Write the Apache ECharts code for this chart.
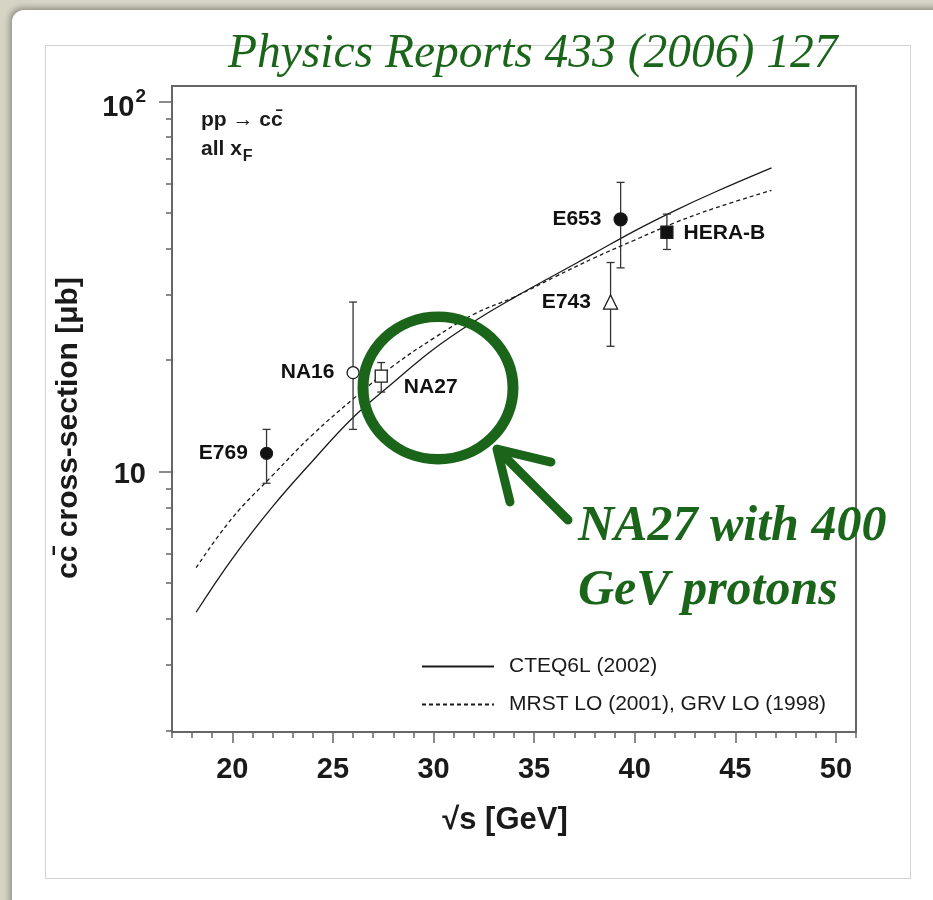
<!DOCTYPE html>
<html>
<head>
<meta charset="utf-8">
<script src="https://cdn.jsdelivr.net/npm/echarts@6/dist/echarts.min.js"></script>
<style>
  html, body { margin: 0; padding: 0; width: 933px; height: 900px; overflow: hidden; background: #d6d4c4; }
  #card { position: absolute; left: 12px; top: 10px; width: 940px; height: 910px; background: #fff;
          border-radius: 12px; box-shadow: -2px -2px 6px rgba(0,0,0,0.35); }
  #frame { position: absolute; left: 45px; top: 45px; width: 864px; height: 832px; border: 1px solid #d2d2d2; }
  #chart { position: absolute; left: 0; top: 0; width: 933px; height: 900px; }
</style>
</head>
<body>
<div id="card"></div>
<div id="frame"></div>
<div id="chart"></div>
<script>
// Measured charm production cross sections (pp -> c cbar, all xF)
const experiments = ['E769', 'NA16', 'NA27', 'E743', 'E653', 'HERA-B'];
const sqrtS       = [21.7, 26.0, 27.4, 38.8, 39.3, 41.6];
const sigma       = [11.2, 18.5, 18.1, 28.7, 48.0, 44.3];
const sigmaLow    = [9.3, 13.0, 16.4, 21.8, 35.5, 39.8];
const sigmaHigh   = [13.0, 28.7, 19.7, 36.7, 60.4, 49.6];

// LO QCD predictions
const curveSqrtS = [18.2, 20, 22, 24, 26, 28, 30, 32, 34, 36, 38, 40, 42, 44, 46.8];
const cteq6l     = [4.17, 5.82, 8.04, 10.7, 14.0, 17.4, 21.4, 25.4, 29.5, 33.9, 38.9, 44.7, 50.7, 56.9, 66.1];
const mrstGrv    = [5.5, 7.5, 9.77, 12.6, 15.7, 19.3, 22.9, 26.6, 29.6, 33.5, 37.8, 42.2, 47.0, 51.5, 57.5];

// Axis ticks
const xMajorTicks = [20, 25, 30, 35, 40, 45, 50];
const yMajorTicks = [10, 100];
const yMinorTicks = [2, 3, 4, 5, 6, 7, 8, 9, 20, 30, 40, 50, 60, 70, 80, 90];

// Marker appearance per experiment
const markerStyle = {
  'E769':   { symbol: 'circle',   size: 12, fill: '#111', pos: 'left',  offset: [0, 0] },
  'NA16':   { symbol: 'circle',   size: 12, fill: '#fff', pos: 'left',  offset: [0, 0] },
  'NA27':   { symbol: 'rect',     size: 12, fill: '#fff', pos: 'right', offset: [4, 11] },
  'E743':   { symbol: 'triangle', size: 14, fill: '#fff', pos: 'left',  offset: [0, 0] },
  'E653':   { symbol: 'circle',   size: 13, fill: '#111', pos: 'left',  offset: [0, 0] },
  'HERA-B': { symbol: 'rect',     size: 12, fill: '#111', pos: 'right', offset: [-2, 1] }
};

const ink = '#1a1a1a';
const axisGray = '#666';
const green = '#1b651b';
const sans = '"Liberation Sans", Arial, Helvetica, sans-serif';
const serif = '"Liberation Serif", "DejaVu Serif", serif';

const points = experiments.map((name, i) => {
  const m = markerStyle[name];
  return {
    name: name,
    value: [sqrtS[i], sigma[i]],
    symbol: m.symbol,
    symbolSize: m.size,
    itemStyle: { color: m.fill, borderColor: ink, borderWidth: 1.3, opacity: 1 },
    label: { show: true, position: m.pos, offset: m.offset, distance: 12, formatter: name, opacity: 1,
             color: '#111', fontFamily: sans, fontWeight: 'bold', fontSize: 21 }
  };
});

const errorBars = experiments.map((name, i) => [sqrtS[i], sigmaLow[i], sigmaHigh[i]]);

const chart = echarts.init(document.getElementById('chart'), null, { renderer: 'canvas' });

const yCommon = { type: 'log', logBase: 10, min: 1.98, max: 110, position: 'left', splitLine: { show: false } };
const xCommon = { type: 'value', min: 17, max: 51, position: 'bottom', splitLine: { show: false } };

chart.setOption({
  backgroundColor: 'transparent',
  animation: false,
  grid: { left: 172, top: 86, right: 77, bottom: 168, show: true, borderColor: axisGray, borderWidth: 2,
          backgroundColor: 'transparent' },
  legend: {
    left: 416, top: 651, orient: 'vertical', itemWidth: 72, itemHeight: 20, itemGap: 17,
    data: ['CTEQ6L (2002)', 'MRST LO (2001), GRV LO (1998)'],
    itemStyle: { opacity: 0 },
    textStyle: { fontFamily: sans, fontSize: 21, lineHeight: 20, color: ink, padding: [0, 0, 0, 10] },
    selectedMode: false
  },
  xAxis: [
    Object.assign({}, xCommon, {
      axisLine: { show: true, onZero: false, lineStyle: { color: axisGray, width: 2 } },
      axisTick: { show: true, customValues: xMajorTicks, length: 11, lineStyle: { color: axisGray, width: 1.5 } },
      axisLabel: { show: true, customValues: xMajorTicks, margin: 23,
                   fontFamily: sans, fontWeight: 'bold', fontSize: 29, color: ink }
    }),
    Object.assign({}, xCommon, {
      interval: 1,
      axisLine: { show: false },
      axisTick: { show: true, length: 6, lineStyle: { color: axisGray, width: 1.5 } },
      axisLabel: { show: false }
    })
  ],
  yAxis: [
    Object.assign({}, yCommon, {
      axisLine: { show: true, onZero: false, lineStyle: { color: axisGray, width: 2 } },
      axisTick: { show: true, customValues: yMajorTicks, length: 13, lineStyle: { color: axisGray, width: 1.5 } },
      axisLabel: {
        show: true, customValues: yMajorTicks, margin: 26, padding: [7, 0, 0, 0],
        fontFamily: sans, fontWeight: 'bold', fontSize: 29, color: ink,
        formatter: v => v >= 100 ? '{b|10}{s|2}' : '10',
        rich: {
          b: { fontFamily: sans, fontWeight: 'bold', fontSize: 29, color: ink, padding: [6, 0, 0, 0] },
          s: { fontFamily: sans, fontWeight: 'bold', fontSize: 19, color: ink, verticalAlign: 'top', padding: [0, 0, 12, 1] }
        }
      }
    }),
    Object.assign({}, yCommon, {
      axisLine: { show: false },
      axisTick: { show: true, customValues: yMinorTicks, length: 6, lineStyle: { color: axisGray, width: 1.5 } },
      axisLabel: { show: false }
    })
  ],
  series: [
    {
      name: 'CTEQ6L (2002)', type: 'line', xAxisIndex: 0, yAxisIndex: 0,
      data: curveSqrtS.map((x, i) => [x, cteq6l[i]]),
      smooth: 0.4, symbol: 'none', lineStyle: { color: ink, width: 1.3, type: 'solid' },
      itemStyle: { color: ink }, z: 2
    },
    {
      name: 'MRST LO (2001), GRV LO (1998)', type: 'line', xAxisIndex: 0, yAxisIndex: 0,
      data: curveSqrtS.map((x, i) => [x, mrstGrv[i]]),
      smooth: 0.4, symbol: 'none', lineStyle: { color: ink, width: 1.3, type: [4, 3] },
      itemStyle: { color: ink }, z: 2
    },
    {
      name: 'errors', type: 'custom', xAxisIndex: 0, yAxisIndex: 0,
      data: errorBars, encode: { x: 0, y: [1, 2] }, z: 3,
      renderItem: (params, api) => {
        const x = api.value(0);
        const lo = api.coord([x, api.value(1)]);
        const hi = api.coord([x, api.value(2)]);
        const cap = 4;
        const st = { stroke: '#333', lineWidth: 1.3 };
        return {
          type: 'group',
          children: [
            { type: 'line', shape: { x1: hi[0], y1: hi[1], x2: lo[0], y2: lo[1] }, style: st },
            { type: 'line', shape: { x1: hi[0] - cap, y1: hi[1], x2: hi[0] + cap, y2: hi[1] }, style: st },
            { type: 'line', shape: { x1: lo[0] - cap, y1: lo[1], x2: lo[0] + cap, y2: lo[1] }, style: st }
          ]
        };
      }
    },
    {
      name: 'data', type: 'scatter', xAxisIndex: 0, yAxisIndex: 0,
      itemStyle: { opacity: 1 },
      data: points, z: 4
    }
  ],
  graphic: [
    // axis titles
    { type: 'text', x: 505, y: 820, z: 10,
      style: { text: '√s [GeV]', fontFamily: sans, fontWeight: 'bold', fontSize: 31, fill: ink,
               align: 'center', verticalAlign: 'middle' } },
    { type: 'text', x: 69, y: 428, rotation: Math.PI / 2, z: 10,
      style: { text: 'cc\u0304 cross-section [\u03bcb]', fontFamily: sans, fontWeight: 'bold', fontSize: 30, fill: ink,
               align: 'center', verticalAlign: 'middle' } },
    // process label inside the frame
    { type: 'text', left: 201, top: 110, z: 10,
      style: { text: 'pp \u2192 cc\u0304', fontFamily: sans, fontWeight: 'bold', fontSize: 21, fill: ink } },
    { type: 'text', left: 201, top: 139, z: 10,
      style: { text: '{a|all x}{f|F}', fontFamily: sans, fontWeight: 'bold', fontSize: 21, fill: ink,
               rich: { a: { fontFamily: sans, fontWeight: 'bold', fontSize: 21, fill: ink },
                       f: { fontFamily: sans, fontWeight: 'bold', fontSize: 16, fill: ink, padding: [14, 0, 0, 1] } } } },
    // reference title
    { type: 'text', left: 228, top: 31, z: 20,
      style: { text: 'Physics Reports 433 (2006) 127', fontFamily: serif, fontStyle: 'italic',
               fontSize: 47.5, fill: green } },
    // highlight ring around NA27
    { type: 'circle', z: 20, x: 438, y: 388, scaleX: 1.0, scaleY: 0.95,
      shape: { cx: 0, cy: 0, r: 75 }, style: { fill: 'none', stroke: green, lineWidth: 11 } },
    // arrow
    { type: 'line', z: 20, shape: { x1: 568, y1: 520, x2: 500, y2: 452 },
      style: { stroke: green, lineWidth: 9, lineCap: 'round' } },
    { type: 'polyline', z: 20, shape: { points: [[551, 462], [497, 449], [510, 502]] },
      style: { stroke: green, lineWidth: 9, lineCap: 'round', lineJoin: 'round', fill: 'none' } },
    { type: 'text', z: 20, left: 578, top: 502,
      style: { text: 'NA27 with 400', fontFamily: serif, fontStyle: 'italic', fontWeight: 'bold',
               fontSize: 50, fill: green } },
    { type: 'text', z: 20, left: 578, top: 566,
      style: { text: 'GeV protons', fontFamily: serif, fontStyle: 'italic', fontWeight: 'bold',
               fontSize: 50, fill: green } }
  ]
});
</script>
</body>
</html>
